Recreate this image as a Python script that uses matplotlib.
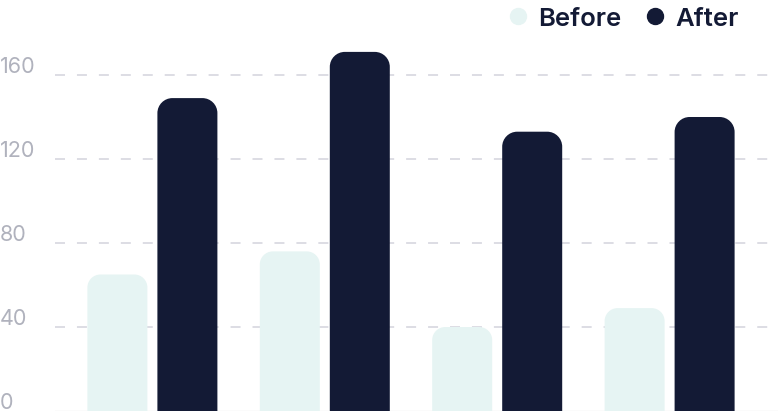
import matplotlib
matplotlib.use("Agg")
import matplotlib.pyplot as plt
from matplotlib.path import Path
from matplotlib.patches import PathPatch
from matplotlib.lines import Line2D
import numpy as np

plt.rcParams['lines.scale_dashes'] = False

categories = ["A", "B", "C", "D"]
before = [65, 76, 40, 49]
after = [149, 171, 133, 140]
yticks = [0, 40, 80, 120, 160]
series_names = ["Before", "After"]

C_BEFORE = "#e6f4f3"
C_AFTER = "#131a35"
C_TICK = "#b0b2bd"
C_GRID = "#dddde4"

W, H, DPI = 778, 414, 100
fig = plt.figure(figsize=(W / DPI, H / DPI), dpi=DPI)
left_px, right_px = 55, 778
bottom_px_from_top = 412
ymax = 185
px_per_unit = 2.1
top_px = bottom_px_from_top - ymax * px_per_unit
ax = fig.add_axes([left_px / W, (H - bottom_px_from_top) / H,
                   (right_px - left_px) / W, (bottom_px_from_top - top_px) / H])

x = np.arange(len(categories))
spacing_px = 172.4
xlim = ((left_px - 152.4) / spacing_px, (right_px - 152.4) / spacing_px)
ax.set_xlim(*xlim)
ax.set_ylim(0, ymax)
for s in ax.spines.values():
    s.set_visible(False)
ax.set_xticks([])
ax.set_yticks([])

# grid lines
for t in yticks[1:]:
    ax.axhline(t, color=C_GRID, lw=1.4, dashes=(7.2, 8.6), zorder=0)
ax.axhline(0, color="#eeeeee", lw=1.0, zorder=0)

bw = 60 / spacing_px
off = 35 / spacing_px
ux = 1 / spacing_px      # data per px in x
uy = 1 / px_per_unit      # data per px in y


def rounded_bar(xc, h, w, color, r_px=14):
    rx = r_px * ux
    ry = min(r_px * uy, h)
    x0, x1 = xc - w / 2, xc + w / 2
    k = 0.5523
    verts = [(x0, 0), (x0, h - ry),
             (x0, h - ry + k * ry), (x0 + rx - k * rx, h), (x0 + rx, h),
             (x1 - rx, h),
             (x1 - rx + k * rx, h), (x1, h - ry + k * ry), (x1, h - ry),
             (x1, 0), (x0, 0)]
    codes = [Path.MOVETO, Path.LINETO,
             Path.CURVE4, Path.CURVE4, Path.CURVE4,
             Path.LINETO,
             Path.CURVE4, Path.CURVE4, Path.CURVE4,
             Path.LINETO, Path.CLOSEPOLY]
    ax.add_patch(PathPatch(Path(verts, codes), facecolor=color, edgecolor="none", zorder=2))


for i in range(len(categories)):
    rounded_bar(x[i] - off, before[i], bw, C_BEFORE, 13)
    rounded_bar(x[i] + off, after[i], bw, C_AFTER, 15)

# y tick labels
for t in yticks:
    ypix = bottom_px_from_top - t * px_per_unit
    fig.text(0 / W, (H - ypix + 3) / H, str(t), ha="left", va="baseline",
             fontsize=15.5, color=C_TICK, family=["Inter", "DejaVu Sans"], fontweight="normal")

# legend
leg_y = (H - 17) / H
for name, col, cx, tx in [(series_names[0], C_BEFORE, 518, 538), (series_names[1], C_AFTER, 655, 675)]:
    fig.lines.append(Line2D([cx / W], [leg_y], marker="o", markersize=11.5,
                            color=col, transform=fig.transFigure, figure=fig))
    fig.text(tx / W, leg_y, name, ha="left", va="center_baseline", fontsize=18.5,
             color=C_AFTER, family=["Inter", "DejaVu Sans"], fontweight="semibold")

fig.savefig("out.png", dpi=DPI)
